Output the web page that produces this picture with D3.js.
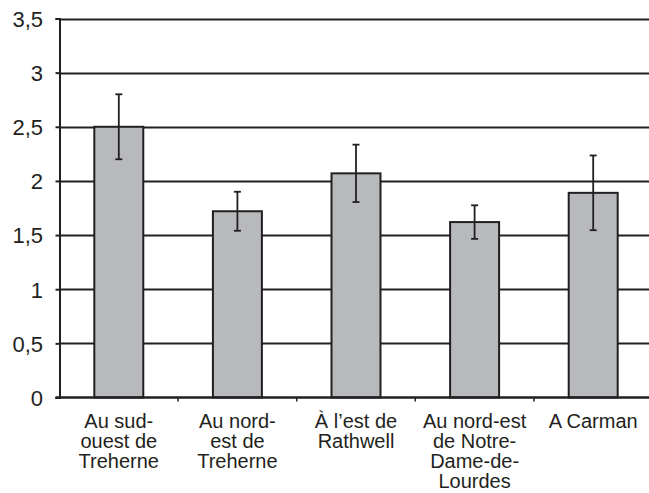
<!DOCTYPE html>
<html>
<head>
<meta charset="utf-8">
<script src="https://cdn.jsdelivr.net/npm/d3@7"></script>
<style>
  body { margin: 0; background: #fff; }
  svg { display: block; }
  text { font-family: "Liberation Sans", Arial, Helvetica, sans-serif; fill: #231f20; }
</style>
</head>
<body>
<svg id="chart" width="649" height="493"></svg>
<script>
// data
const categories = [
    ["Au sud-", "ouest de", "Treherne"],
    ["Au nord-", "est de", "Treherne"],
    ["À l’est de", "Rathwell"],
    ["Au nord-est", "de Notre-", "Dame-de-", "Lourdes"],
    ["A Carman"]
]
const means = [2.5, 1.72, 2.07, 1.62, 1.89]
const errors = [0.3, 0.18, 0.265, 0.155, 0.345]
const yTicks = [0, 0.5, 1, 1.5, 2, 2.5, 3, 3.5]

const ink = "#231f20"
const svg = d3.select("#chart")

const plotLeft = 59.5, plotRight = 652.5, plotTop = 18.5, plotBottom = 397.5

const x = d3.scaleBand()
    .domain(d3.range(categories.length))
    .range([plotLeft, plotRight])
    .paddingInner(0.587)
    .paddingOuter(0.2935)

const y = d3.scaleLinear()
    .domain([0, 3.5])
    .range([plotBottom, plotTop])

// gridlines
svg.append("g")
    .selectAll("line")
    .data(yTicks.filter(d => d > 0))
    .join("line")
        .attr("x1", plotLeft)
        .attr("x2", 649)
        .attr("y1", d => Math.round(y(d)) + 0.5)
        .attr("y2", d => Math.round(y(d)) + 0.5)
        .attr("stroke", ink)
        .attr("stroke-width", 2)

// y axis
const yAxis = svg.append("g")
    .attr("transform", `translate(${plotLeft},0)`)
    .call(d3.axisLeft(y).tickValues(yTicks).tickSize(4).tickPadding(12.5)
        .tickFormat(d => String(d).replace(".", ",")))
yAxis.select(".domain").attr("stroke", ink).attr("stroke-width", 2)
yAxis.selectAll(".tick line").attr("stroke", ink).attr("stroke-width", 2)
yAxis.selectAll(".tick text")
    .attr("font-size", 22)
    .attr("dy", "0.36em")
    .style("fill", ink)

// bars
svg.append("g")
    .selectAll("rect")
    .data(means)
    .join("rect")
        .attr("x", (d, i) => x(i))
        .attr("y", d => y(d))
        .attr("width", x.bandwidth())
        .attr("height", d => y(0) - y(d))
        .attr("fill", "#b8b9bc")
        .attr("stroke", ink)
        .attr("stroke-width", 2)

// error bars
const err = svg.append("g")
    .selectAll("g")
    .data(means)
    .join("g")
        .attr("transform", (d, i) => `translate(${x(i) + x.bandwidth() / 2},0)`)

err.append("line")
    .attr("y1", (d, i) => y(d + errors[i]))
    .attr("y2", (d, i) => y(d - errors[i]))
    .attr("stroke", ink)
    .attr("stroke-width", 1.8)
err.append("line")
    .attr("x1", -3.5).attr("x2", 3.5)
    .attr("y1", (d, i) => y(d + errors[i]))
    .attr("y2", (d, i) => y(d + errors[i]))
    .attr("stroke", ink)
    .attr("stroke-width", 1.8)
err.append("line")
    .attr("x1", -3.5).attr("x2", 3.5)
    .attr("y1", (d, i) => y(d - errors[i]))
    .attr("y2", (d, i) => y(d - errors[i]))
    .attr("stroke", ink)
    .attr("stroke-width", 1.8)

// x axis line and ticks between categories
svg.append("line")
    .attr("x1", plotLeft - 4).attr("x2", 649)
    .attr("y1", plotBottom).attr("y2", plotBottom)
    .attr("stroke", ink)
    .attr("stroke-width", 2.5)

const step = x.step()
svg.append("g")
    .selectAll("line")
    .data(d3.range(1, categories.length))
    .join("line")
        .attr("x1", i => plotLeft + i * step)
        .attr("x2", i => plotLeft + i * step)
        .attr("y1", plotBottom)
        .attr("y2", plotBottom + 4)
        .attr("stroke", ink)
        .attr("stroke-width", 1.5)

// category labels
const labels = svg.append("g")
    .selectAll("text")
    .data(categories)
    .join("text")
        .attr("x", (d, i) => x(i) + x.bandwidth() / 2)
        .attr("y", 428)
        .attr("text-anchor", "middle")
        .attr("font-size", 20)

labels.selectAll("tspan")
    .data(d => d)
    .join("tspan")
        .attr("x", function() { return this.parentNode.getAttribute("x") })
        .attr("dy", (d, i) => i === 0 ? 0 : 20)
        .text(d => d)
</script>
</body>
</html>
